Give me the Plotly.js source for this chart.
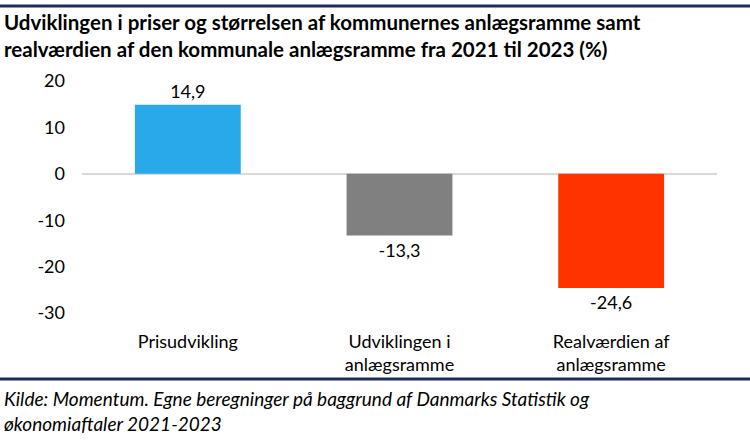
<!DOCTYPE html>
<html>
<head>
<meta charset="utf-8">
<script src="https://cdn.plot.ly/plotly-3.0.1.min.js"></script>
<style>html,body{margin:0;padding:0;background:#fff;}#chart{width:750px;height:440px;}</style>
</head>
<body>
<div id="chart"></div>
<script>
var categories = ["Prisudvikling", "Udviklingen i<br>anlægsramme", "Realværdien af<br>anlægsramme"];
var values = [14.9, -13.3, -24.6];
var barColors = ["#29A9EA", "#808080", "#FF3300"];
var yTickVals = [-30, -20, -10, 0, 10, 20];
var yTickText = ["-30", "-20", "-10", "0", "10", "20"];
var titleText = "<b>Udviklingen i priser og størrelsen af kommunernes anlægsramme samt<br>realværdien af den kommunale anlægsramme fra 2021 til 2023 (%)</b>";
var sourceText = "Kilde: Momentum. Egne beregninger på baggrund af Danmarks Statistik og<br>økonomiaftaler 2021-2023";

var FONT = "Lato, 'Open Sans', sans-serif";

var barLabels = values.map(function (v) { return v.toFixed(1).replace(".", ","); });

var trace = {
  type: "bar",
  x: categories,
  y: values,
  text: barLabels,
  texttemplate: "%{text}",
  marker: {color: barColors, line: {width: 0}},
  width: 0.5,
  textposition: "outside",
  cliponaxis: false,
  textfont: {family: FONT, size: 18, color: "#000"},
  hoverinfo: "skip"
};

var layout = {
  width: 750,
  height: 440,
  autosize: false,
  paper_bgcolor: "#fff",
  plot_bgcolor: "#fff",
  margin: {l: 82, r: 33, t: 81, b: 127, pad: 0},
  showlegend: false,
  font: {family: FONT, size: 18, color: "#000"},
  xaxis: {
    type: "category",
    showgrid: false,
    showline: false,
    zeroline: false,
    ticks: "",
    tickfont: {family: FONT, size: 18, color: "#000"},
    ticklabelstandoff: 16,
    fixedrange: true
  },
  yaxis: {
    range: [-30, 20],
    tickvals: yTickVals,
    ticktext: yTickText,
    showgrid: false,
    showline: false,
    zeroline: true,
    zerolinecolor: "#D9D9D9",
    zerolinewidth: 1.5,
    ticks: "",
    tickfont: {family: FONT, size: 18, color: "#000"},
    ticklabelstandoff: 16,
    fixedrange: true
  },
  shapes: [
    {type: "line", xref: "paper", yref: "paper", x0: -0.13, x1: 1.06, y0: (313-6)/232, y1: (313-6)/232,
     line: {color: "#1F2B5B", width: 3}},
    {type: "line", xref: "paper", yref: "paper", x0: -0.13, x1: 1.06, y0: (313-379)/232, y1: (313-379)/232,
     line: {color: "#1F2B5B", width: 3}}
  ],
  annotations: [
    {text: titleText, xref: "paper", yref: "paper", x: (2-82)/635, y: (313-8)/232,
     xanchor: "left", yanchor: "top", align: "left", showarrow: false,
     font: {family: FONT, size: 20.5, color: "#000"}},
    {text: sourceText, xref: "paper", yref: "paper", x: (2-82)/635, y: (313-385)/232,
     xanchor: "left", yanchor: "top", align: "left", showarrow: false,
     font: {family: FONT, size: 19, color: "#000", style: "italic"}}
  ]
};

Plotly.newPlot("chart", [trace], layout, {displayModeBar: false, staticPlot: true});
</script>
</body>
</html>
